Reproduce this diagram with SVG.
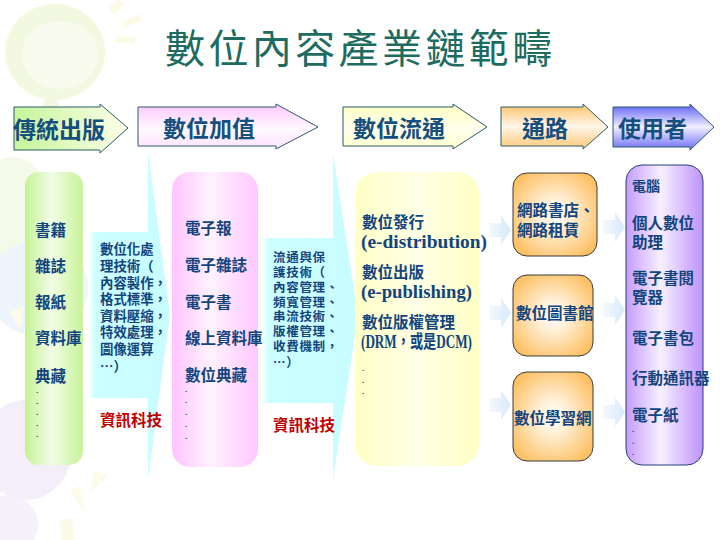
<svg xmlns="http://www.w3.org/2000/svg" width="720" height="540" viewBox="0 0 720 540">
<style>
.title{font-family:"Noto Sans CJK TC",sans-serif;font-size:40px;font-weight:400;fill:#1e6b60;letter-spacing:3.4px}
.hd{font-family:"Noto Sans CJK TC",sans-serif;font-size:23px;font-weight:700;fill:#154f7d}
.t{font-family:"Noto Sans CJK TC",sans-serif;font-size:15.5px;font-weight:700;fill:#12457e}
.s{font-family:"Noto Sans CJK TC",sans-serif;font-size:13.4px;font-weight:700;fill:#12457e}
.s2{font-family:"Noto Sans CJK TC",sans-serif;font-size:12.5px;font-weight:700;fill:#12457e;letter-spacing:0.7px}
.lat{font-family:"Liberation Serif","Noto Sans CJK TC",serif;font-size:18px;font-weight:700}
.red{font-family:"Noto Sans CJK TC",sans-serif;font-size:15.5px;font-weight:700;fill:#c00000}
.dot{font-family:"Liberation Sans",sans-serif;font-size:8px;font-weight:700;fill:#12457e}
.ha{stroke:#2b5a6e;stroke-width:1}
.box{stroke:#3a3a3a;stroke-width:1}
.conn{fill:url(#gConn);opacity:0.85}
.deco{fill:#fcfbe8}
</style>
<defs>
<linearGradient id="gGreenCol" x1="0" y1="0" x2="1" y2="0"><stop offset="0" stop-color="#c4f293"/><stop offset="0.45" stop-color="#f2fde6"/><stop offset="1" stop-color="#c8f39a"/></linearGradient>
<linearGradient id="gPinkCol" x1="0" y1="0" x2="1" y2="0"><stop offset="0" stop-color="#ffc4ff"/><stop offset="0.45" stop-color="#fff2ff"/><stop offset="1" stop-color="#ffc8ff"/></linearGradient>
<linearGradient id="gYellowCol" x1="0" y1="0" x2="1" y2="0"><stop offset="0" stop-color="#ffffc6"/><stop offset="0.5" stop-color="#ffffe6"/><stop offset="1" stop-color="#ffffc4"/></linearGradient>
<linearGradient id="gPurpleCol" x1="0" y1="0" x2="1" y2="0"><stop offset="0" stop-color="#c59cfb"/><stop offset="0.45" stop-color="#f7f0ff"/><stop offset="1" stop-color="#bf92fa"/></linearGradient>
<radialGradient id="gOrange" cx="0.5" cy="0.5" r="0.6"><stop offset="0" stop-color="#ffffff"/><stop offset="0.3" stop-color="#fff1da"/><stop offset="1" stop-color="#fdc063"/></radialGradient>
<linearGradient id="gCyan" x1="0" y1="0" x2="1" y2="0"><stop offset="0" stop-color="#f4ffff"/><stop offset="0.06" stop-color="#ccffff"/><stop offset="1" stop-color="#c8fcff"/></linearGradient>
<linearGradient id="hGreen" x1="0" y1="0" x2="1" y2="0"><stop offset="0" stop-color="#c6f59a"/><stop offset="1" stop-color="#fdffe9"/></linearGradient>
<linearGradient id="hPink" x1="0" y1="0" x2="0" y2="1"><stop offset="0" stop-color="#ffc6ff"/><stop offset="0.55" stop-color="#fff9ff"/><stop offset="1" stop-color="#ffe2ff"/></linearGradient>
<linearGradient id="hYellow" x1="0" y1="0" x2="0" y2="1"><stop offset="0" stop-color="#ffffbf"/><stop offset="0.55" stop-color="#ffffee"/><stop offset="1" stop-color="#ffffcc"/></linearGradient>
<linearGradient id="hOrange" x1="0" y1="0" x2="0" y2="1"><stop offset="0" stop-color="#ffc266"/><stop offset="0.5" stop-color="#fff6ea"/><stop offset="1" stop-color="#ffc873"/></linearGradient>
<linearGradient id="hBlue" x1="0" y1="0" x2="0" y2="1"><stop offset="0" stop-color="#5c5cf5"/><stop offset="0.5" stop-color="#f2f0ff"/><stop offset="1" stop-color="#6b6bf5"/></linearGradient>
<linearGradient id="gConn" x1="0" y1="0" x2="1" y2="0"><stop offset="0" stop-color="#f2f8fe"/><stop offset="1" stop-color="#cfe5f9"/></linearGradient>
<path id="smallArrow" d="M-11,-7 H1 V-15 L11,0 L1,15 V7 H-11 Z"/>
</defs>

<rect width="720" height="540" fill="#ffffff"/>

<g id="background">
<ellipse cx="55" cy="52" rx="50" ry="48" fill="#f2f9e0"/>
<ellipse cx="60" cy="55" rx="38" ry="34" fill="#f8fbee"/>
<path d="M46,98 L56,98 L60,108 L42,108 Z" fill="#f2f9e0"/>
<path class="deco" d="M108,8 L118,0 L124,4 L114,16 Z M122,22 L140,14 L142,20 L124,28 Z M116,36 L136,38 L134,44 L114,42 Z"/>
<ellipse cx="12" cy="212" rx="40" ry="55" fill="#f4faea"/>
<ellipse cx="38" cy="288" rx="50" ry="48" fill="#eef5fc"/>
<path class="deco" d="M10,312 L24,306 L20,330 Z"/>
<ellipse cx="26" cy="450" rx="46" ry="50" fill="#f4eefa"/>
<ellipse cx="8" cy="525" rx="30" ry="30" fill="#f6f1fa"/>
<path class="deco" d="M70,490 L80,486 L86,515 Z M95,470 L108,476 L90,492 Z M60,520 L72,518 L74,540 L62,540 Z"/>
</g>

<g id="tech1">
<path d="M90,232 H148 V152 L170,315 L148,479 V398 H90 Z" fill="url(#gCyan)"/>
<text class="s"><tspan x="100" y="254">數位化處</tspan><tspan x="100" y="271">理技術（</tspan><tspan x="100" y="288">內容製作，</tspan><tspan x="100" y="304">格式標準，</tspan><tspan x="100" y="321">資料壓縮，</tspan><tspan x="100" y="337">特效處理，</tspan><tspan x="100" y="354">圖像運算</tspan><tspan x="100" y="371">…）</tspan></text>
<text class="red" x="100" y="426">資訊科技</text>
</g>

<g id="tech2">
<path d="M263,238 H333 V153 L358,316 L333,480 V403 H263 Z" fill="url(#gCyan)"/>
<text class="s2"><tspan x="273" y="262">流通與保</tspan><tspan x="273" y="277">護技術（</tspan><tspan x="273" y="292">內容管理、</tspan><tspan x="273" y="307">頻寬管理、</tspan><tspan x="273" y="321">串流技術、</tspan><tspan x="273" y="336">版權管理、</tspan><tspan x="273" y="351">收費機制，</tspan><tspan x="273" y="367">…）</tspan></text>
<text class="red" x="273" y="431">資訊科技</text>
</g>

<g id="col-traditional">
<rect x="25" y="172" width="58" height="293" rx="14" fill="url(#gGreenCol)"/>
<text class="t" x="35" y="236">書籍</text>
<text class="t" x="35" y="272">雜誌</text>
<text class="t" x="35" y="308">報紙</text>
<text class="t" x="35" y="344">資料庫</text>
<text class="t" x="35" y="382">典藏</text>
<text class="dot"><tspan x="36" y="393">.</tspan><tspan x="36" y="404">.</tspan><tspan x="36" y="415">.</tspan><tspan x="36" y="426">.</tspan><tspan x="36" y="437">.</tspan></text>
</g>

<g id="col-valueadd">
<rect x="172" y="172" width="86" height="295" rx="18" fill="url(#gPinkCol)"/>
<text class="t" x="185" y="234">電子報</text>
<text class="t" x="185" y="271">電子雜誌</text>
<text class="t" x="185" y="308">電子書</text>
<text class="t" x="185" y="344">線上資料庫</text>
<text class="t" x="185" y="381">數位典藏</text>
<text class="dot"><tspan x="185" y="392">.</tspan><tspan x="185" y="403">.</tspan><tspan x="185" y="415">.</tspan><tspan x="185" y="427">.</tspan><tspan x="185" y="439">.</tspan></text>
</g>

<g id="col-distribution">
<rect x="355" y="172" width="124" height="294" rx="22" fill="url(#gYellowCol)"/>
<text class="t"><tspan x="362" y="228">數位發行</tspan><tspan class="lat" x="361" y="248" textLength="126" lengthAdjust="spacingAndGlyphs">(e-distribution)</tspan></text>
<text class="t"><tspan x="362" y="278">數位出版</tspan><tspan class="lat" x="361" y="298" textLength="111" lengthAdjust="spacingAndGlyphs">(e-publishing)</tspan></text>
<text class="t"><tspan x="362" y="328">數位版權管理</tspan><tspan class="lat" x="361" y="348" textLength="111" lengthAdjust="spacingAndGlyphs">(DRM，或是DCM)</tspan></text>
<text class="dot"><tspan x="362" y="371">.</tspan><tspan x="362" y="383">.</tspan><tspan x="362" y="394">.</tspan></text>
</g>

<g id="channel-bookstore">
<rect class="box" x="513" y="173" width="84" height="83" rx="14" fill="url(#gOrange)"/>
<text class="t"><tspan x="517" y="216">網路書店、</tspan><tspan x="517" y="236">網路租賃</tspan></text>
</g>
<g id="channel-library">
<rect class="box" x="513" y="275" width="80" height="81" rx="14" fill="url(#gOrange)"/>
<text class="t" x="516" y="319">數位圖書館</text>
</g>
<g id="channel-elearning">
<rect class="box" x="513" y="372" width="80" height="89" rx="14" fill="url(#gOrange)"/>
<text class="t" x="514" y="424">數位學習網</text>
</g>

<g id="col-users">
<rect x="626" y="165" width="77" height="300" rx="16" fill="url(#gPurpleCol)" stroke="#26407a" stroke-width="1"/>
<text class="t" x="632" y="191" style="font-size:14px">電腦</text>
<text class="t"><tspan x="632" y="229">個人數位</tspan><tspan x="632" y="248">助理</tspan></text>
<text class="t"><tspan x="632" y="284">電子書閱</tspan><tspan x="632" y="303">覽器</tspan></text>
<text class="t" x="632" y="344">電子書包</text>
<text class="t" x="632" y="384">行動通訊器</text>
<text class="t" x="632" y="421">電子紙</text>
<text class="dot"><tspan x="632" y="432">.</tspan><tspan x="632" y="444">.</tspan><tspan x="632" y="455">.</tspan></text>
</g>

<g id="stage-traditional">
<path class="ha" d="M14,107 H100 V104 L128,128 L100,153 V150 H14 Z" fill="url(#hGreen)"/>
<text class="hd" x="13" y="138">傳統出版</text>
</g>
<g id="stage-valueadd">
<path class="ha" d="M138,107 H276 V104 L318,127 L276,149 V146 H138 Z" fill="url(#hPink)"/>
<text class="hd" x="163" y="137">數位加值</text>
</g>
<g id="stage-distribution">
<path class="ha" d="M343,107 H453 V104 L487,127 L453,149 V146 H343 Z" fill="url(#hYellow)"/>
<text class="hd" x="353" y="137">數位流通</text>
</g>
<g id="stage-channel">
<path class="ha" d="M501,107 H583 V104 L608,127 L583,149 V146 H501 Z" fill="url(#hOrange)"/>
<text class="hd" x="522" y="137">通路</text>
</g>
<g id="stage-users">
<path class="ha" d="M613,107 H690 V104 L714,127 L690,150 V147 H613 Z" fill="url(#hBlue)"/>
<text class="hd" x="618" y="137">使用者</text>
</g>

<g id="connectors">
<use href="#smallArrow" class="conn" transform="translate(500,230)"/>
<use href="#smallArrow" class="conn" transform="translate(500,313)"/>
<use href="#smallArrow" class="conn" transform="translate(500,405)"/>
<use href="#smallArrow" class="conn" transform="translate(614,227)"/>
<use href="#smallArrow" class="conn" transform="translate(614,310)"/>
<use href="#smallArrow" class="conn" transform="translate(614,412)"/>
</g>

<text class="title" x="165" y="63">數位內容產業鏈範疇</text>
</svg>
